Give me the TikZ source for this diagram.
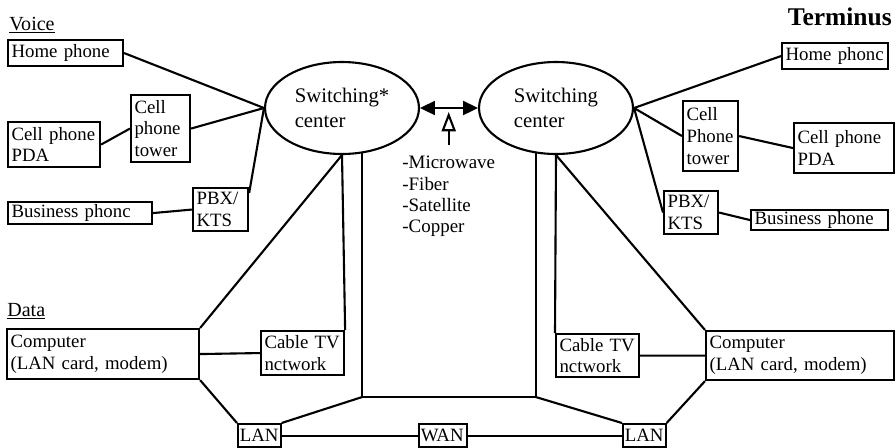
\documentclass[tikz,border=0pt]{standalone}
\usepackage{fontspec}
\setmainfont{Liberation Serif}
\usetikzlibrary{arrows.meta, shapes.geometric}

\begin{document}
\begin{tikzpicture}[
  x=0.02cm, y=-0.02cm,
  unit/.style 2 args={
    draw, line width=1.2pt, anchor=north west,
    text width=#1, minimum height=#2,
    inner xsep=2pt, inner ysep=0pt, align=left,
    font=\fontsize{10.7}{12.3}\selectfont
  },
  switchctr/.style={
    ellipse, draw, line width=1.2pt,
    minimum width=3.08cm, minimum height=1.84cm, inner sep=0pt,
    align=left, font=\fontsize{11.8}{14}\selectfont
  },
  wire/.style={line width=1.2pt},
  trunk/.style={line width=1.2pt,
    {Triangle[length=8.5pt, width=8pt]}-{Triangle[length=8.5pt, width=8pt]}},
  pointer/.style={line width=1.2pt, -{Triangle[open, length=11pt, width=8pt]}},
  heading/.style={anchor=base west, inner sep=0pt, font=\fontsize{11.4}{13}\selectfont}
]

\useasboundingbox (0,0) rectangle (896,447);

% ---- Switching centers ----
\node[switchctr] (swL) at (342,108) {Switching*\\center};
\node[switchctr] (swR) at (556,108) {Switching\\center};

% ---- Voice (left) ----
\node[heading] (voice) at (9,30) {\underline{Voice}};
\node[unit={2.16cm}{0.52cm}] (homeL) at (7,39) {Home phone};
\node[unit={1.70cm}{0.90cm}] (cellL) at (7,121) {Cell phone\\PDA};
\node[unit={1.04cm}{1.34cm}] (towerL) at (130,94) {Cell\\phone\\tower};
\node[unit={2.74cm}{0.44cm}] (bizL) at (7,201) {Business phonc};
\node[unit={0.96cm}{0.86cm}] (pbxL) at (192,187) {PBX/\\KTS};

% ---- Terminus (right) ----
\node[anchor=base east, inner sep=0pt, font=\fontsize{14.5}{16}\selectfont\bfseries] (term) at (892,25) {Terminus};
\node[unit={1.98cm}{0.52cm}] (homeR) at (781,42) {Home phonc};
\node[unit={0.96cm}{1.40cm}] (towerR) at (682,100) {Cell\\Phone\\tower};
\node[unit={1.86cm}{1.00cm}] (cellR) at (793,122) {Cell phone\\PDA};
\node[unit={0.94cm}{0.86cm}] (pbxR) at (663,190) {PBX/\\KTS};
\node[unit={2.60cm}{0.40cm}] (bizR) at (750,209) {Business phone};

% ---- Data ----
\node[heading] (data) at (7,316) {\underline{Data}};
\node[unit={3.70cm}{1.00cm}] (compL) at (6,328) {Computer\\(LAN card, modem)};
\node[unit={1.52cm}{0.88cm}] (cableL) at (260,330) {Cable TV\\nctwork};
\node[unit={0.78cm}{0.46cm}, inner xsep=1pt] (lanL) at (237,423) {LAN};
\node[unit={0.88cm}{0.46cm}, inner xsep=1pt] (wan) at (418,423) {WAN};
\node[unit={0.78cm}{0.46cm}, inner xsep=1pt] (lanR) at (622,423) {LAN};
\node[unit={1.52cm}{0.86cm}] (cableR) at (555,333) {Cable TV\\nctwork};
\node[unit={3.62cm}{0.98cm}] (compR) at (705,330) {Computer\\(LAN card, modem)};

% ---- Transmission media ----
\node[anchor=north west, inner sep=0pt, align=left, font=\fontsize{10.8}{12}\selectfont] (media) at (402,156)
  {-Microwave\\-Fiber\\-Satellite\\-Copper};

\coordinate (jL) at (swL.-66 |- 0,397);
\coordinate (jR) at (swR.-114 |- 0,397);
\coordinate (linkpt) at (media.north |- 0,112);

% Voice connections
\draw[wire] (homeL.east) -- (swL.west);
\draw[wire] (cellL.east) -- (towerL.west);
\draw[wire] (towerL.east) -- (swL.west);
\draw[wire] (bizL.east) -- (pbxL.west);
\draw[wire] (pbxL.30) -- (swL.west);

\draw[wire] (swR.east) -- (homeR.west);
\draw[wire] (swR.east) -- (towerR.west);
\draw[wire] (towerR.east) -- (cellR.west);
\draw[wire] (swR.east) -- (pbxR.west);
\draw[wire] (pbxR.east) -- (bizR.west);

% Trunk between the centers
\draw[trunk] (swL.east) -- (swR.west);
\draw[pointer, shorten <=6pt] (media.north) -- (linkpt);

% Data connections
\draw[wire] (swL.south) -- (cableL.north east);
\draw[wire] (swL.south) -- (compL.north east);
\draw[wire] (swL.-66) -- (jL) -- (jR) -- (swR.-114);
\draw[wire] (jL) -- (lanL.north east);
\draw[wire] (jR) -- (lanR.north west);
\draw[wire] (swR.south) -- (cableR.north west);
\draw[wire] (swR.south) -- (compR.north west);
\draw[wire] (compL.east) -- (cableL.west);
\draw[wire] (cableR.east) -- (compR.west);
\draw[wire] (compL.south east) -- (lanL.north west);
\draw[wire] (lanR.north east) -- (compR.south west);
\draw[wire] (lanL.east) -- (wan.west);
\draw[wire] (wan.east) -- (lanR.west);

\end{tikzpicture}
\end{document}
